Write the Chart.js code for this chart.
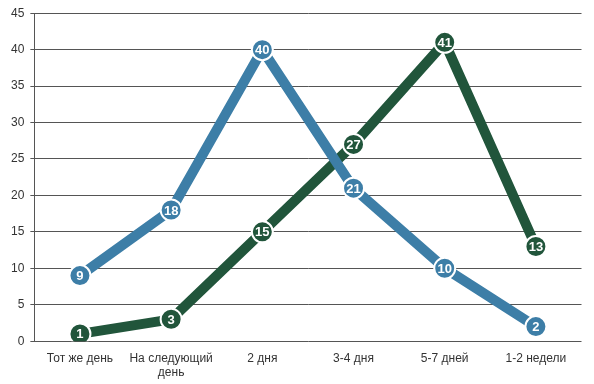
<!DOCTYPE html>
<html>
<head>
<meta charset="utf-8">
<script src="https://cdn.jsdelivr.net/npm/chart.js@4/dist/chart.umd.min.js"></script>
<style>
    html, body { margin: 0; padding: 0; background: #fff; }
    #wrap { width: 594px; height: 384px; }
</style>
</head>
<body>
<div id="wrap"><canvas id="lineChart"></canvas></div>
<script>
const categories = ['Тот же день', ['На следующий', 'день'], '2 дня', '3-4 дня', '5-7 дней', '1-2 недели'];
const blueValues = [9, 18, 40, 21, 10, 2];
const greenValues = [1, 3, 15, 27, 41, 13];

// white numbers inside each point
const pointLabels = {
    id: 'pointLabels',
    afterDatasetsDraw(chart) {
        const ctx = chart.ctx;
        ctx.save();
        ctx.font = 'bold 13px "Liberation Sans", Arial, sans-serif';
        ctx.fillStyle = '#fff';
        ctx.textAlign = 'center';
        ctx.textBaseline = 'middle';
        chart.data.datasets.forEach((ds, i) => {
            chart.getDatasetMeta(i).data.forEach((pt, j) => {
                ctx.fillText(ds.data[j], pt.x, pt.y + 1);
            });
        });
        ctx.restore();
    }
};

Chart.defaults.font.family = '"Liberation Sans", Arial, sans-serif';
Chart.defaults.font.size = 12;
Chart.defaults.color = '#333';

new Chart(document.getElementById('lineChart'), {
    type: 'line',
    data: {
        labels: categories,
        datasets: [
            {
                label: 'A',
                data: blueValues,
                borderColor: '#3d7ea7',
                backgroundColor: '#3d7ea7',
                borderWidth: 10,
                pointRadius: 10.5,
                pointBorderColor: '#fff',
                pointBorderWidth: 2,
                tension: 0
            },
            {
                label: 'B',
                data: greenValues,
                borderColor: '#21553b',
                backgroundColor: '#21553b',
                borderWidth: 10,
                pointRadius: 10.5,
                pointBorderColor: '#fff',
                pointBorderWidth: 2,
                tension: 0
            }
        ]
    },
    options: {
        responsive: true,
        maintainAspectRatio: false,
        animation: false,
        layout: { padding: { top: 9, right: 9, left: 5, bottom: 2 } },
        plugins: {
            legend: { display: false },
            tooltip: { enabled: false }
        },
        scales: {
            x: {
                offset: true,
                grid: { display: false },
                border: { display: false },
                ticks: { color: '#333', maxRotation: 0, autoSkip: false, padding: 2 }
            },
            y: {
                min: 0,
                max: 45,
                ticks: { stepSize: 5, color: '#333', padding: 6 },
                grid: { color: '#555', tickLength: 4 },
                border: { display: true, color: '#555' }
            }
        }
    },
    plugins: [pointLabels]
});
</script>
</body>
</html>
